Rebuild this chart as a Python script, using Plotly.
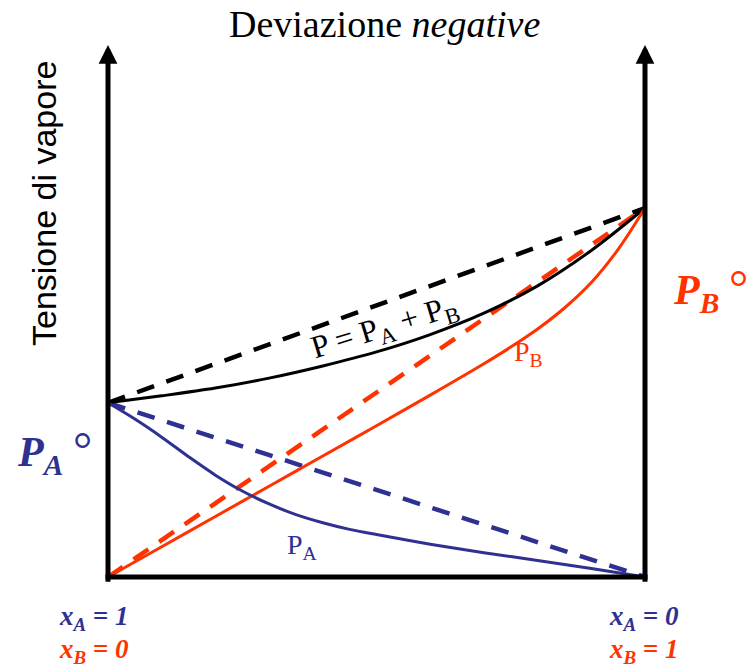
import plotly.graph_objects as go

# ---------------- data (pressure in arbitrary units, P_B° = 100) ----------------
xB_total = [0.0, 0.1, 0.2, 0.3, 0.4, 0.5, 0.6, 0.7, 0.8, 0.9, 1.0]
P_total = [47.2, 49.1, 51.2, 53.9, 57.2, 61.0, 65.7, 71.5, 78.9, 88.5, 100.0]

xB_B = [0.0, 0.1, 0.2, 0.3, 0.4, 0.5, 0.6, 0.7, 0.75, 0.8, 0.85, 0.9, 0.95, 1.0]
P_B = [0.0, 8.2, 16.4, 24.6, 32.8, 41.0, 49.3, 57.8, 62.3, 67.2, 72.9, 79.8, 88.8, 100.0]

xB_A = [0.0, 0.05, 0.1, 0.15, 0.2, 0.25, 0.3, 0.35, 0.4, 0.45, 0.5, 0.6, 0.7, 0.8, 0.9, 1.0]
P_A = [47.2, 42.8, 37.9, 32.6, 27.6, 23.3, 19.8, 16.9, 14.7, 12.9, 11.5, 8.9, 6.6, 4.5, 2.3, 0.0]

PA0 = 47.2    # P_A°
PB0 = 100.0   # P_B°
xB_ends = [0.0, 1.0]
ideal_total = [PA0, PB0]
ideal_B = [0.0, PB0]
ideal_A = [PA0, 0.0]
P_axis_top = 144.2

# ---------------- layout geometry (pixels) ----------------
W, H = 748, 670
L, R, T, B = 98, 655, 40, 585
X0, X1 = 108, 645          # pixel of xB=0 and xB=1
Y0 = 577                   # pixel of P=0
PX_PER_UNIT = (Y0 - 208) / PB0

xr = [(L - X0) / (X1 - X0), (R - X0) / (X1 - X0)]
yr = [(Y0 - B) / PX_PER_UNIT, (Y0 - T) / PX_PER_UNIT]


def px(xp):
    return (xp - L) / (R - L)


def py(yp):
    return (B - yp) / (B - T)


BLUE = "#2e3192"
RED = "#ff3300"
BLACK = "#000000"
DASH = "18px,13px"

fig = go.Figure()
# ideal (Raoult) dashed lines
fig.add_trace(go.Scatter(x=xB_ends, y=ideal_total, mode="lines",
                         line=dict(color=BLACK, width=4.5, dash=DASH)))
fig.add_trace(go.Scatter(x=xB_ends, y=ideal_B, mode="lines",
                         line=dict(color=RED, width=4.5, dash=DASH)))
fig.add_trace(go.Scatter(x=xB_ends, y=ideal_A, mode="lines",
                         line=dict(color=BLUE, width=4.5, dash=DASH)))
# real curves
fig.add_trace(go.Scatter(x=xB_total, y=P_total, mode="lines",
                         line=dict(color=BLACK, width=3, shape="spline", smoothing=0.9)))
fig.add_trace(go.Scatter(x=xB_B, y=P_B, mode="lines",
                         line=dict(color=RED, width=3, shape="spline", smoothing=0.9)))
fig.add_trace(go.Scatter(x=xB_A, y=P_A, mode="lines",
                         line=dict(color=BLUE, width=3, shape="spline", smoothing=0.9)))

annotations = []
# vertical axis arrows
for xv in xB_ends:
    annotations.append(dict(x=xv, y=P_axis_top, ax=xv, ay=yr[0] + 0.5,
                            xref="x", yref="y", axref="x", ayref="y",
                            text="", showarrow=True, arrowhead=2, arrowsize=0.75,
                            arrowwidth=5, arrowcolor=BLACK, standoff=0))

SERIF = "Liberation Serif"
SANS = "Liberation Sans"


def label(text, xp, yp, size, color, family=SERIF, angle=0):
    annotations.append(dict(x=px(xp), y=py(yp), xref="paper", yref="paper",
                            text=text, showarrow=False, textangle=angle,
                            xanchor="center", yanchor="middle",
                            font=dict(family=family, size=size, color=color)))


RING = '<span style="font-size:48px">\u2009°</span>'

label("Deviazione <i>negative</i>", 384, 24, 38, BLACK)
label("Tensione di vapore", 44, 204, 34, BLACK, family=SANS, angle=-90)
label("<b><i>P<sub>A</sub></i></b>" + RING, 54, 452, 42, BLUE)
label("<b><i>P<sub>B</sub></i></b>" + RING, 710, 290, 42, RED)
label("P = P<sub>A</sub> + P<sub>B</sub>", 384, 328, 32, BLACK, angle=-17)
label("P<sub>B</sub>", 528, 354, 28, RED)
label("P<sub>A</sub>", 302, 546, 28, BLUE)
label("<b><i>x<sub>A</sub> = 1</i></b>", 94, 618, 27, BLUE)
label("<b><i>x<sub>B</sub> = 0</i></b>", 94, 651, 27, RED)
label("<b><i>x<sub>A</sub> = 0</i></b>", 644, 618, 27, BLUE)
label("<b><i>x<sub>B</sub> = 1</i></b>", 644, 651, 27, RED)

fig.update_layout(
    width=W, height=H,
    margin=dict(l=L, r=W - R, t=T, b=H - B),
    paper_bgcolor="white", plot_bgcolor="white",
    showlegend=False,
    xaxis=dict(range=xr, visible=False, fixedrange=True),
    yaxis=dict(range=yr, visible=False, fixedrange=True),
    annotations=annotations,
    shapes=[dict(type="line", xref="x", yref="y",
                 x0=xB_ends[0] - 2.5 / (X1 - X0), x1=xB_ends[1] + 2.5 / (X1 - X0),
                 y0=0, y1=0, line=dict(color=BLACK, width=5))],
)

fig.write_html("out.html", config={"displayModeBar": False},
               post_script="document.body.style.margin='0';")
